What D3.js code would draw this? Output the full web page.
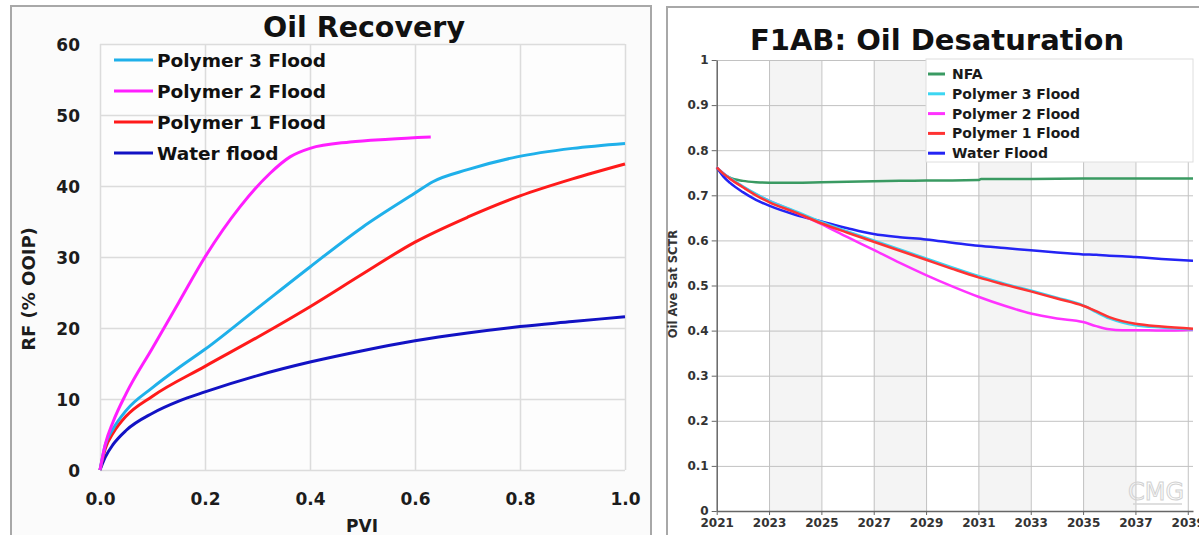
<!DOCTYPE html>
<html>
<head>
<meta charset="utf-8">
<script src="https://cdn.jsdelivr.net/npm/d3@7"></script>
<style>
  body { margin: 0; background: #fff; }
  svg { display: block; font-family: "DejaVu Sans", sans-serif; font-weight: bold; }
  .grid line { stroke: #dcdcdc; stroke-width: 1.5; }
  .grid path, .noline path { display: none; }
  .gridR line { stroke: #c2c2c2; stroke-width: 1; }
  .gridR path { display: none; }
</style>
</head>
<body>
<div id="chart"></div>
<script>
// ---- left chart: Oil Recovery ----
var pviTicks = [0, 0.2, 0.4, 0.6, 0.8, 1.0];
var rfTicks = [0, 10, 20, 30, 40, 50, 60];

var pviWater = [0, 0.01, 0.025, 0.05, 0.1, 0.15, 0.2, 0.3, 0.4, 0.5, 0.6, 0.7, 0.8, 0.9, 1.0];
var rfWater  = [0, 1.8, 3.6, 5.6, 8.0, 9.7, 11.0, 13.3, 15.2, 16.8, 18.2, 19.3, 20.2, 20.9, 21.6];

var pviPoly1 = [0, 0.01, 0.025, 0.05, 0.1, 0.2, 0.3, 0.4, 0.5, 0.6, 0.7, 0.8, 0.9, 1.0];
var rfPoly1  = [0, 3.0, 5.2, 7.6, 10.4, 14.6, 18.7, 23.0, 27.6, 32.1, 35.6, 38.6, 41.0, 43.1];

var pviPoly3 = [0, 0.01, 0.025, 0.05, 0.1, 0.15, 0.2, 0.3, 0.4, 0.5, 0.6, 0.634, 0.7, 0.794, 0.9, 1.0];
var rfPoly3  = [0, 3.5, 5.8, 8.4, 11.6, 14.4, 17.0, 22.8, 28.6, 34.2, 39.0, 40.6, 42.3, 44.1, 45.3, 46.0];

var pviPoly2 = [0, 0.01, 0.025, 0.05, 0.1, 0.15, 0.2, 0.267, 0.324, 0.362, 0.4, 0.476, 0.55, 0.63];
var rfPoly2  = [0, 3.6, 6.8, 10.8, 17.2, 23.6, 30.0, 37.1, 41.8, 44.1, 45.3, 46.2, 46.6, 46.9];

var leftNames  = ["Polymer 3 Flood", "Polymer 2 Flood", "Polymer 1 Flood", "Water flood"];
var leftColors = ["#1fb0ea", "#ff1eff", "#ff1a1a", "#1212c4"];

// ---- right chart: F1AB Oil Desaturation ----
var yearTicks = [2021, 2023, 2025, 2027, 2029, 2031, 2033, 2035, 2037, 2039];
var satTicks = [0, 0.1, 0.2, 0.3, 0.4, 0.5, 0.6, 0.7, 0.8, 0.9, 1];
var shadedYears = [2023, 2027, 2031, 2035];

var years = [2021, 2021.25, 2021.5, 2022, 2022.5, 2023, 2024, 2025, 2026, 2027, 2028, 2029, 2030,
             2031, 2032, 2033, 2034, 2035, 2035.5, 2036, 2036.5, 2037, 2038, 2039.2];
var satWater = [0.762, 0.742, 0.728, 0.707, 0.690, 0.677, 0.657, 0.642, 0.627, 0.614, 0.607, 0.602, 0.595,
                0.588, 0.583, 0.578, 0.573, 0.569, 0.568, 0.566, 0.565, 0.563, 0.559, 0.555];
var satPoly1 = [0.762, 0.748, 0.737, 0.718, 0.700, 0.685, 0.662, 0.638, 0.617, 0.597, 0.577, 0.557, 0.537,
                0.518, 0.502, 0.487, 0.471, 0.455, 0.443, 0.430, 0.421, 0.415, 0.409, 0.404];
var satPoly3 = [0.762, 0.749, 0.739, 0.720, 0.703, 0.688, 0.665, 0.641, 0.620, 0.600, 0.580, 0.560, 0.540,
                0.521, 0.504, 0.489, 0.473, 0.456, 0.441, 0.427, 0.418, 0.412, 0.407, 0.403];
var satPoly2 = [0.762, 0.749, 0.738, 0.719, 0.702, 0.688, 0.663, 0.636, 0.607, 0.579, 0.550, 0.523, 0.498,
                0.475, 0.455, 0.438, 0.427, 0.419, 0.410, 0.403, 0.401, 0.401, 0.400, 0.402];
var yearsNfa = [2021, 2021.25, 2021.5, 2022, 2022.5, 2023, 2024, 2025, 2026, 2027, 2028, 2029, 2030,
                2031, 2031.1, 2033, 2035, 2037, 2039.2];
var satNfa   = [0.762, 0.748, 0.739, 0.732, 0.729, 0.728, 0.728, 0.729, 0.730, 0.731, 0.732, 0.733, 0.733,
                0.734, 0.736, 0.736, 0.737, 0.737, 0.737];

var rightNames  = ["NFA", "Polymer 3 Flood", "Polymer 2 Flood", "Polymer 1 Flood", "Water Flood"];
var rightColors = ["#3a9a62", "#3cd6f2", "#ff33ff", "#ff3333", "#2424f4"];

var svg = d3.select("#chart").append("svg")
    .attr("width", 1199)
    .attr("height", 535);

// ================= LEFT =================
svg.append("rect")
    .attr("x", 11).attr("y", 6).attr("width", 640).attr("height", 545)
    .attr("fill", "#fbfbfb").attr("stroke", "#a8a8a8").attr("stroke-width", 2);

var xL = d3.scaleLinear().domain([0, 1]).range([100, 625]);
var yL = d3.scaleLinear().domain([0, 60]).range([470, 44]);

svg.append("rect")
    .attr("x", xL(0)).attr("y", yL(60))
    .attr("width", xL(1) - xL(0)).attr("height", yL(0) - yL(60))
    .attr("fill", "#fdfdfd");

svg.append("g").attr("class", "grid")
    .attr("transform", "translate(0," + yL(0) + ")")
    .call(d3.axisBottom(xL).tickValues(pviTicks).tickSize(-(yL(0) - yL(60))).tickFormat(""));
svg.append("g").attr("class", "grid")
    .attr("transform", "translate(" + xL(0) + ",0)")
    .call(d3.axisLeft(yL).tickValues(rfTicks).tickSize(-(xL(1) - xL(0))).tickFormat(""));

var axL = svg.append("g").attr("class", "noline")
    .attr("transform", "translate(" + xL(0) + ",0)")
    .call(d3.axisLeft(yL).tickValues(rfTicks).tickSize(0).tickPadding(20));
axL.selectAll("text").attr("font-size", 17).attr("font-family", "DejaVu Sans")
    .attr("font-weight", "bold").attr("fill", "#1c1c1c").attr("dy", "0.36em");

var axB = svg.append("g").attr("class", "noline")
    .attr("transform", "translate(0," + yL(0) + ")")
    .call(d3.axisBottom(xL).tickValues(pviTicks).tickSize(0).tickPadding(23).tickFormat(d3.format(".1f")));
axB.selectAll("text").attr("font-size", 17).attr("font-family", "DejaVu Sans")
    .attr("font-weight", "bold").attr("fill", "#1c1c1c");

svg.append("text")
    .attr("x", 364).attr("y", 37)
    .attr("text-anchor", "middle")
    .attr("font-size", 28.5).attr("fill", "#111")
    .text("Oil Recovery");

svg.append("text")
    .attr("x", 362).attr("y", 532)
    .attr("text-anchor", "middle")
    .attr("font-size", 17).attr("fill", "#1c1c1c")
    .text("PVI");

svg.append("text")
    .attr("transform", "translate(35,289) rotate(-90)")
    .attr("text-anchor", "middle")
    .attr("font-size", 18).attr("fill", "#1c1c1c")
    .text("RF (% OOIP)");

var lineL = d3.line()
    .x(function(d) { return xL(d[0]); })
    .y(function(d) { return yL(d[1]); })
    .curve(d3.curveMonotoneX);

var leftSeries = [
    { x: pviWater, y: rfWater, c: leftColors[3] },
    { x: pviPoly1, y: rfPoly1, c: leftColors[2] },
    { x: pviPoly3, y: rfPoly3, c: leftColors[0] },
    { x: pviPoly2, y: rfPoly2, c: leftColors[1] }
];

svg.selectAll(".lcurve")
    .data(leftSeries)
    .enter()
    .append("path")
    .attr("class", "lcurve")
    .attr("d", function(s) { return lineL(d3.zip(s.x, s.y)); })
    .attr("fill", "none")
    .attr("stroke", function(s) { return s.c; })
    .attr("stroke-width", 3);

var legL = svg.selectAll(".legL")
    .data(leftNames)
    .enter()
    .append("g")
    .attr("class", "legL")
    .attr("transform", function(d, i) { return "translate(114," + (60 + i * 31) + ")"; });
legL.append("line")
    .attr("x1", 0).attr("x2", 39)
    .attr("stroke", function(d, i) { return leftColors[i]; })
    .attr("stroke-width", 3);
legL.append("text")
    .attr("x", 43).attr("y", 7)
    .attr("font-size", 18.5).attr("fill", "#111")
    .text(function(d) { return d; });

// ================= RIGHT =================
svg.append("rect")
    .attr("x", 667).attr("y", 7).attr("width", 560).attr("height", 545)
    .attr("fill", "#fff").attr("stroke", "#a8a8a8").attr("stroke-width", 2);

var xR = d3.scaleLinear().domain([2021, 2039.2]).range([716.7, 1193]);
var yR = d3.scaleLinear().domain([0, 1]).range([511, 60]);

svg.selectAll(".band")
    .data(shadedYears)
    .enter()
    .append("rect")
    .attr("class", "band")
    .attr("x", function(d) { return xR(d); })
    .attr("y", yR(1))
    .attr("width", function(d) { return xR(d + 2) - xR(d); })
    .attr("height", yR(0) - yR(1))
    .attr("fill", "#f4f4f4");

svg.append("g").attr("class", "gridR")
    .attr("transform", "translate(0," + yR(0) + ")")
    .call(d3.axisBottom(xR).tickValues(yearTicks.slice(1)).tickSize(-(yR(0) - yR(1))).tickFormat(""));
svg.append("g").attr("class", "gridR")
    .attr("transform", "translate(" + xR(2021) + ",0)")
    .call(d3.axisLeft(yR).tickValues(satTicks.slice(1)).tickSize(-(xR(2039.2) - xR(2021))).tickFormat(""));

var axR = svg.append("g")
    .attr("transform", "translate(" + xR(2021) + ",0)")
    .call(d3.axisLeft(yR).tickValues(satTicks).tickSize(5).tickSizeOuter(0).tickPadding(3).tickFormat(d3.format("~g")));
axR.select(".domain").attr("stroke", "#666").attr("stroke-width", 1.5);
axR.selectAll("line").attr("stroke", "#666");
axR.selectAll("text").attr("font-size", 12).attr("font-family", "DejaVu Sans")
    .attr("font-weight", "bold").attr("fill", "#333");

var axRB = svg.append("g")
    .attr("transform", "translate(0," + yR(0) + ")")
    .call(d3.axisBottom(xR).tickValues(yearTicks).tickSize(4).tickSizeOuter(0).tickPadding(3).tickFormat(d3.format("d")));
axRB.select(".domain").attr("stroke", "#666").attr("stroke-width", 1.5);
axRB.selectAll("line").attr("stroke", "#666");
axRB.selectAll("text").attr("font-size", 12).attr("font-family", "DejaVu Sans")
    .attr("font-weight", "bold").attr("fill", "#333");

svg.append("text")
    .attr("x", 937).attr("y", 50)
    .attr("text-anchor", "middle")
    .attr("font-size", 29).attr("fill", "#111")
    .text("F1AB:  Oil Desaturation");

svg.append("text")
    .attr("transform", "translate(677,284) rotate(-90)")
    .attr("text-anchor", "middle")
    .attr("font-size", 11.5).attr("fill", "#333")
    .text("Oil Ave Sat SCTR");

// CMG watermark
svg.append("text")
    .attr("x", 1156).attr("y", 500)
    .attr("text-anchor", "middle")
    .attr("font-size", 24).attr("font-weight", "normal")
    .attr("fill", "none").attr("stroke", "#d2d2d2").attr("stroke-width", 1)
    .text("CMG");
svg.append("line")
    .attr("x1", 1133).attr("x2", 1182).attr("y1", 504).attr("y2", 504)
    .attr("stroke", "#d4d4d4").attr("stroke-width", 1.5);

var lineR = d3.line()
    .x(function(d) { return xR(d[0]); })
    .y(function(d) { return yR(d[1]); })
    .curve(d3.curveMonotoneX);

var rightSeries = [
    { x: yearsNfa, y: satNfa, c: rightColors[0] },
    { x: years, y: satWater, c: rightColors[4] },
    { x: years, y: satPoly2, c: rightColors[2] },
    { x: years, y: satPoly3, c: rightColors[1] },
    { x: years, y: satPoly1, c: rightColors[3] }
];

svg.selectAll(".rcurve")
    .data(rightSeries)
    .enter()
    .append("path")
    .attr("class", "rcurve")
    .attr("d", function(s) { return lineR(d3.zip(s.x, s.y)); })
    .attr("fill", "none")
    .attr("stroke", function(s) { return s.c; })
    .attr("stroke-width", 2.5);

svg.append("rect")
    .attr("x", 926).attr("y", 59).attr("width", 267).attr("height", 103)
    .attr("fill", "#fff").attr("stroke", "#dedede").attr("stroke-width", 1);

var legR = svg.selectAll(".legR")
    .data(rightNames)
    .enter()
    .append("g")
    .attr("class", "legR")
    .attr("transform", function(d, i) { return "translate(928," + (74 + i * 19.8) + ")"; });
legR.append("line")
    .attr("x1", 0).attr("x2", 17)
    .attr("stroke", function(d, i) { return rightColors[i]; })
    .attr("stroke-width", 3);
legR.append("text")
    .attr("x", 24).attr("y", 5)
    .attr("font-size", 14).attr("fill", "#1a1a1a")
    .text(function(d) { return d; });
</script>
</body>
</html>
